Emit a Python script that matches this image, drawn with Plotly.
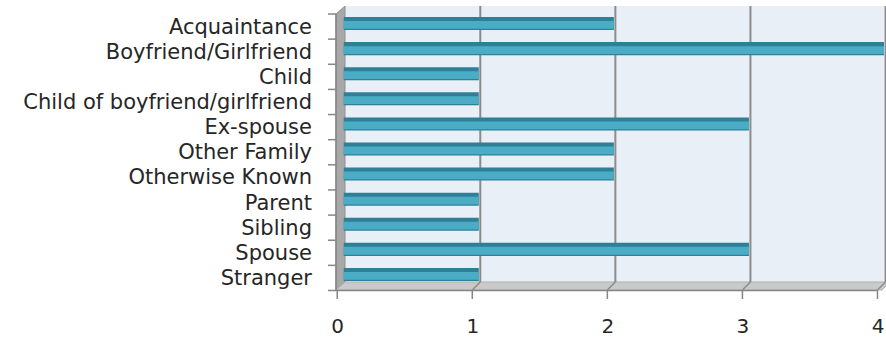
import plotly.graph_objects as go

categories = ["Acquaintance", "Boyfriend/Girlfriend", "Child", "Child of boyfriend/girlfriend",
              "Ex-spouse", "Other Family", "Otherwise Known", "Parent", "Sibling", "Spouse", "Stranger"]
values = [2, 4, 1, 1, 3, 2, 2, 1, 1, 3, 1]
x_ticks = [0, 1, 2, 3, 4]

W, H = 886, 339
PX0, PX1, PY0, PY1 = 339, 884, 11, 287
XR = [-0.035, 4.0]


def pxx(x):
    return (x - PX0) / (PX1 - PX0)


def pxy(y):
    return (PY1 - y) / (PY1 - PY0)


def data_px(v):
    return PX0 + (v - XR[0]) / (XR[1] - XR[0]) * (PX1 - PX0)


def path(pts):
    s = "M" + " L".join(f"{pxx(x):.5f},{pxy(y):.5f}" for x, y in pts) + " Z"
    return s


shapes = []
DEP = 8
# back wall
shapes.append(dict(type="path", xref="paper", yref="paper", layer="below",
                   path=path([(345, 6), (884, 6), (884, 282), (345, 282)]),
                   fillcolor="#e9eff6", line=dict(width=0)))
# left wall
shapes.append(dict(type="path", xref="paper", yref="paper", layer="below",
                   path=path([(336, 14), (345, 6), (345, 282), (336, 290)]),
                   fillcolor="#a8a8a8", line=dict(color="#8f8f8f", width=1)))
# floor
shapes.append(dict(type="path", xref="paper", yref="paper", layer="below",
                   path=path([(336, 290), (882, 290), (890, 282), (345, 282)]),
                   fillcolor="#c9cacc", line=dict(color="#b0b0b0", width=1)))
# gridlines on back wall and floor
for v in x_ticks[1:]:
    bx = data_px(v) + 1.5
    shapes.append(dict(type="line", xref="paper", yref="paper", layer="below",
                       x0=pxx(bx), x1=pxx(bx), y0=pxy(6), y1=pxy(282),
                       line=dict(color="#8c8c8c", width=2)))
    shapes.append(dict(type="line", xref="paper", yref="paper", layer="below",
                       x0=pxx(bx), x1=pxx(bx - DEP), y0=pxy(282), y1=pxy(290),
                       line=dict(color="#8c8c8c", width=1.5)))
# front vertical axis + ticks
shapes.append(dict(type="line", xref="paper", yref="paper", layer="above",
                   x0=pxx(336), x1=pxx(336), y0=pxy(14), y1=pxy(291),
                   line=dict(color="#868686", width=1.5)))
n = len(categories)
step = (290.5 - 14) / n
for k in range(n + 1):
    yy = 14 + step * k
    shapes.append(dict(type="line", xref="paper", yref="paper", layer="above",
                       x0=pxx(328), x1=pxx(336), y0=pxy(yy), y1=pxy(yy),
                       line=dict(color="#868686", width=1.5)))
# front horizontal axis + ticks
shapes.append(dict(type="line", xref="paper", yref="paper", layer="above",
                   x0=pxx(336), x1=pxx(data_px(4) + 1.5 - DEP), y0=pxy(290.5), y1=pxy(290.5),
                   line=dict(color="#868686", width=1.5)))
for v in x_ticks:
    fx = data_px(v) + 1.5 - DEP
    shapes.append(dict(type="line", xref="paper", yref="paper", layer="above",
                       x0=pxx(fx), x1=pxx(fx), y0=pxy(290.5), y1=pxy(299),
                       line=dict(color="#868686", width=1.5)))

fig = go.Figure()
fig.add_trace(go.Bar(y=categories, x=values, orientation="h",
                     marker=dict(color="#2f7f96", line=dict(width=0)),
                     offset=-0.26, width=0.52, hoverinfo="skip", showlegend=False))
fig.add_trace(go.Bar(y=categories, x=values, orientation="h",
                     marker=dict(color="#4bacc6", line=dict(width=0)),
                     offset=-0.10, width=0.31, hoverinfo="skip", showlegend=False))

font_family = "DejaVu Sans"
fig.update_layout(
    width=W, height=H,
    margin=dict(l=PX0, r=W - PX1, t=PY0, b=H - PY1, pad=0, autoexpand=False),
    paper_bgcolor="white", plot_bgcolor="rgba(0,0,0,0)",
    barmode="overlay",
    shapes=shapes,
    font=dict(family=font_family, size=20, color="#262626"),
    xaxis=dict(range=XR, tickmode="array", tickvals=x_ticks, ticktext=[str(v) for v in x_ticks],
               showgrid=False, zeroline=False, showline=False, ticks="", automargin=False,
               ticklabelstandoff=25, ticklabelshift=-6,
               tickfont=dict(family=font_family, size=20, color="#262626")),
    yaxis=dict(type="category", autorange="reversed", tickmode="array",
               tickvals=categories, ticktext=categories,
               showgrid=False, zeroline=False,
               showline=False, ticks="", automargin=False, ticklabelstandoff=26, ticklabelshift=-3,
               tickfont=dict(family=font_family, size=21, color="#262626")),
)

fig.write_html("out.html", config={"displayModeBar": False},
               post_script="document.body.style.margin='0px';document.body.style.overflow='hidden';")
